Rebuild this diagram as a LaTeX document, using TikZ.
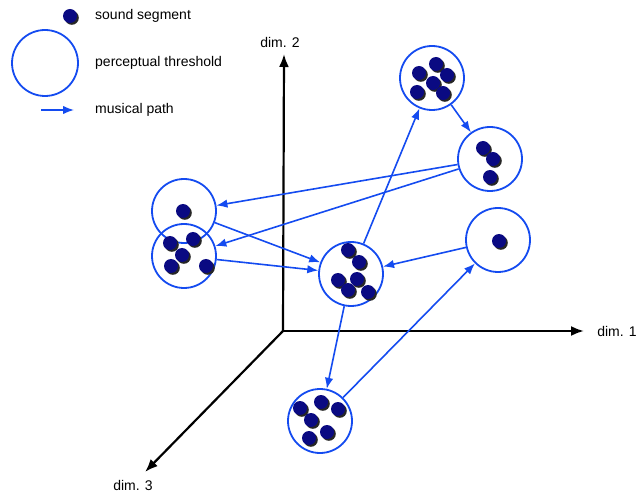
\documentclass[tikz,border=0pt]{standalone}
\usepackage{fontspec}
\setmainfont{Liberation Sans}
\usetikzlibrary{arrows.meta}
\definecolor{pathblue}{RGB}{20,75,240}
\definecolor{segnavy}{RGB}{10,10,130}
\begin{document}
\begin{tikzpicture}[x=1pt,y=-1pt,
  threshold/.style={circle,draw=pathblue,line width=1.8pt,minimum size=64pt,inner sep=0pt},
  mpath/.style={draw=pathblue,line width=1.6pt,-{Latex[length=11pt,width=8.5pt]}},
  axis/.style={line width=2.2pt,-{Latex[length=13pt,width=10pt]}},
  lbl/.style={font=\fontsize{14}{16}\selectfont,inner sep=0pt},
  seg/.style={fill=segnavy},
  segshadow/.style={fill=black!85},
]
\useasboundingbox (0,0) rectangle (637,494);

% sound segments: navy dot with a small dark shadow
\newcommand\segdot[1]{%
  \fill[segshadow,shift={(1.8,1.8)}] (#1) circle (7);
  \fill[seg] (#1) circle (7);}

% legend
\segdot{70,16}
\node[lbl,anchor=west] (legseg) at (95,16) {sound segment};
\node[threshold,minimum size=66pt] (legcirc) at (45,63) {};
\node[lbl,anchor=west] (legthr) at (95,63) {perceptual threshold};
\coordinate (legA) at (41,110);
\coordinate (legB) at (74,110);
\draw[mpath] (legA) -- (legB);
\node[lbl,anchor=west] (legpath) at (95,110) {musical path};

% axes
\coordinate (O) at (283,331);
\coordinate (ax1) at (584,331);
\coordinate (ax2) at (284,54);
\coordinate (ax3) at (145,472);
\draw[axis] (O) -- (ax1);
\draw[axis] (O) -- (ax2);
\draw[axis] (O) -- (ax3);
\node[lbl] (dimA) at (617,331) {dim. 1};
\node[lbl] (dimB) at (280,42) {dim. 2};
\node[lbl] (dimC) at (133,485) {dim. 3};

% perceptual thresholds
\node[threshold] (A) at (184,211) {};
\node[threshold] (B) at (184,256) {};
\node[threshold] (C) at (351,274) {};
\node[threshold] (D) at (432,78) {};
\node[threshold] (E) at (490,159) {};
\node[threshold] (F) at (498,240) {};
\node[threshold] (G) at (320,421) {};

% segments inside the thresholds
\segdot{183,211}
\foreach \p in {{170,243},{193,239},{182,255},{171,266},{206,266}} {\segdot{\p}}
\foreach \p in {{348,250},{359,262},{338,280},{357,279},{348,290},{368,292}} {\segdot{\p}}
\foreach \p in {{436,64},{419,73},{447,75},{433,83},{417,92},{443,93}} {\segdot{\p}}
\foreach \p in {{483,148},{493,159},{490,177}} {\segdot{\p}}
\segdot{499,241}
\foreach \p in {{300,408},{321,402},{338,409},{311,420},{309,438},{327,432}} {\segdot{\p}}

% musical paths
\draw[mpath] (E) -- (A);
\draw[mpath] (E) -- (B);
\draw[mpath] (A) -- (C);
\draw[mpath] (B) -- (C);
\draw[mpath] (C) -- (D);
\draw[mpath] (D) -- (E);
\draw[mpath] (F) -- (C);
\draw[mpath] (C) -- (G);
\draw[mpath] (G) -- (F);
\end{tikzpicture}
\end{document}
